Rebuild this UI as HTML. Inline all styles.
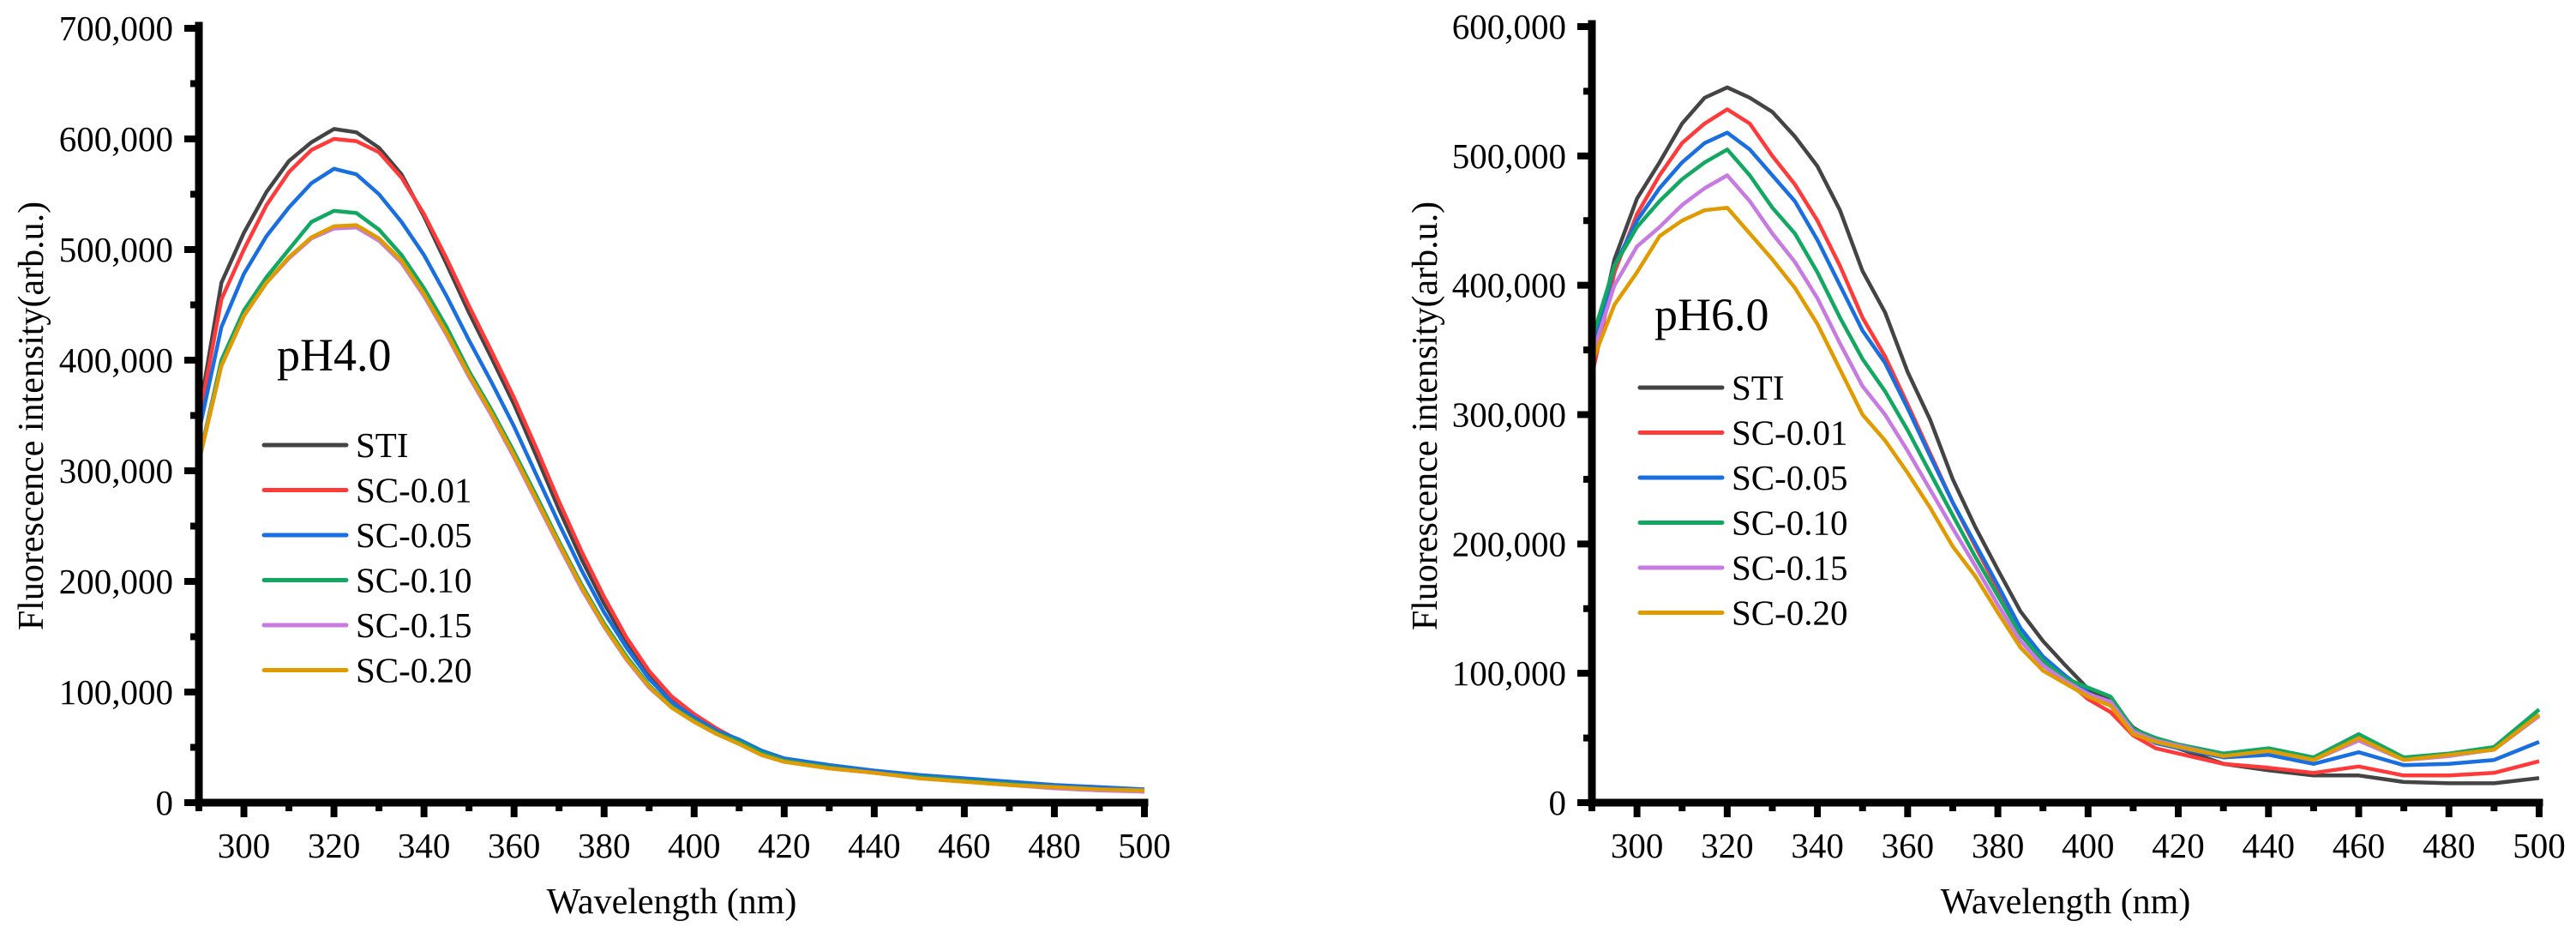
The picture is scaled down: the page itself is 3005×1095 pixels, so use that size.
<!DOCTYPE html>
<html><head><meta charset="utf-8"><style>
html,body{margin:0;padding:0;background:#fff;}
svg{display:block;font-family:"Liberation Serif","Times New Roman",serif;}
</style></head><body>
<svg id="fig" width="3005" height="1095" viewBox="0 0 3005 1095" xmlns="http://www.w3.org/2000/svg">
<g id="p1"></g>
<g id="p2"></g>
</svg>
<script>
const wavelengths=[290,295,300,305,310,315,320,325,330,335,340,345,350,355,360,365,370,375,380,385,390,395,400,405,410,415,420,430,440,450,460,470,480,490,500];
const seriesNames=["STI","SC-0.01","SC-0.05","SC-0.10","SC-0.15","SC-0.20"];
const seriesColors=["#444444","#ff3a3a","#1a6fe0","#12a862","#c77be0","#e09b00"];
// pH4.0 values (thousands)
const ph4_STI=[350,470,515,552,580,597,609,606,592,568,530,487,443,402,360,313,265,220,180,145,115,93,78,66,55,45,38,32,28,24,21,18,15,13,11];
const ph4_SC001=[345,455,500,540,570,590,600,598,588,565,532,492,449,408,366,320,272,227,186,149,119,96,80,67,56,45,38,31,27,23,20,17,14,12,10];
const ph4_SC005=[335,430,478,512,538,560,573,568,550,525,495,458,418,380,340,296,252,210,172,140,112,91,77,65,57,47,40,34,29,25,22,19,16,14,12];
const ph4_SC010=[310,400,445,475,500,525,535,533,518,495,465,430,390,355,317,277,236,197,162,132,106,87,74,63,55,45,38,32,27,23,20,17,14,12,11];
const ph4_SC015=[310,395,440,470,492,510,519,520,508,488,458,423,385,350,312,272,232,193,159,129,104,86,73,62,53,43,37,31,27,22,19,16,13,11,10];
const ph4_SC020=[308,395,440,470,493,511,521,522,510,490,460,425,387,352,314,274,234,195,160,130,105,86,73,62,53,43,37,31,27,22,19,16,14,12,11];
// pH6.0 values (thousands)
const ph6_STI=[342,420,467,495,525,545,553,545,534,515,492,458,411,379,333,296,250,213,180,148,125,106,88,79,58,48,42,30,25,21,21,16,15,15,19];
const ph6_SC001=[330,410,455,485,510,525,536,525,500,478,450,415,375,345,308,270,232,198,165,130,110,95,80,70,52,42,38,30,27,23,28,21,21,23,32];
const ph6_SC005=[345,415,450,475,495,510,518,505,485,465,435,400,365,340,305,268,232,200,168,135,113,98,85,75,55,46,42,35,37,30,39,29,30,33,47];
const ph6_SC010=[358,415,445,465,482,495,505,485,460,440,410,375,343,318,288,255,222,190,160,130,110,96,89,82,57,50,45,38,42,35,53,35,38,43,72];
const ph6_SC015=[345,400,430,445,462,475,485,465,440,418,390,355,322,300,272,242,212,183,153,125,106,94,84,78,55,48,44,36,40,33,48,33,36,41,67];
const ph6_SC020=[340,385,410,438,450,458,460,440,420,398,370,335,300,280,255,228,198,175,147,120,102,92,82,75,53,47,43,36,40,33,50,33,37,41,68];
const xTicks=[300,320,340,360,380,400,420,440,460,480,500];
const ph4_yTicks=[0,100000,200000,300000,400000,500000,600000,700000];
const ph6_yTicks=[0,100000,200000,300000,400000,500000,600000];

const NS="http://www.w3.org/2000/svg";
function mk(tag,attrs,parent){const e=document.createElementNS(NS,tag);for(const k in attrs)e.setAttribute(k,attrs[k]);parent.appendChild(e);return e;}
function fmt(v){return v===0?"0":v.toLocaleString("en-US");}

function panel(g,cfg){
  const xs=w=>cfg.x0+(w-290)/210*(cfg.x1-cfg.x0);
  const ys=v=>cfg.y0-v/cfg.ymax*(cfg.y0-cfg.yTop);
  // series
  cfg.series.forEach((s,i)=>{
    let d="";
    wavelengths.forEach((w,j)=>{d+=(j?"L":"M")+xs(w).toFixed(1)+","+ys(s[j]*1000).toFixed(1);});
    const p=mk("path",{d:d,fill:"none",stroke:seriesColors[i],"stroke-width":4.5,"stroke-linejoin":"round"},g);
    
    
  });
  // axes
  const ax=mk("path",{d:`M${cfg.x0},${cfg.yTop-3}V${cfg.y0}H${cfg.x1}`,fill:"none",stroke:"#000","stroke-width":9,"stroke-linecap":"square"},g);
  
  
  // x ticks
  for(let w=290;w<=500;w+=10){
    const major=(w%20===0);
    const t=mk("line",{x1:xs(w),x2:xs(w),y1:cfg.y0,y2:cfg.y0+(major?17:10),stroke:"#000","stroke-width":8},g);
    
    
  }
  xTicks.forEach(w=>{
    const t=mk("text",{x:xs(w),y:1000,"font-size":41,"text-anchor":"middle"},g);t.textContent=w;
    
    
  });
  // y ticks
  for(let v=0;v<=cfg.ymax;v+=50000){
    const major=(v%100000===0);
    const t=mk("line",{x1:cfg.x0,x2:cfg.x0-(major?17:10),y1:ys(v),y2:ys(v),stroke:"#000","stroke-width":8},g);
    
    
  }
  cfg.yTicks.forEach(v=>{
    const t=mk("text",{x:cfg.x0-30,y:ys(v)+14,"font-size":41,"text-anchor":"end"},g);t.textContent=fmt(v);
    
    
  });
  const xt=mk("text",{x:(cfg.x0+cfg.x1)/2,y:1065,"font-size":42,"text-anchor":"middle"},g);xt.textContent="Wavelength (nm)";
  
  
  const yt=mk("text",{x:0,y:0,"font-size":42,"text-anchor":"middle",transform:`translate(${cfg.ytx},485) rotate(-90)`},g);yt.textContent="Fluorescence intensity(arb.u.)";
  
  
  const lb=mk("text",{x:cfg.labX,y:cfg.labY,"font-size":54},g);lb.textContent=cfg.label;
  
  
  // legend
  seriesNames.forEach((n,i)=>{
    const yy=cfg.legY+i*52.5;
    const l=mk("line",{x1:cfg.legX,x2:cfg.legX+96,y1:yy,y2:yy,stroke:seriesColors[i],"stroke-width":5,"stroke-linecap":"round"},g);
    
    
    const t=mk("text",{x:cfg.legX+107,y:yy+14,"font-size":41},g);t.textContent=n;
    
    
  });
}
panel(document.getElementById("p1"),{x0:232,x1:1335,y0:936,yTop:33,ymax:700000,yTicks:ph4_yTicks,
  series:[ph4_STI,ph4_SC001,ph4_SC005,ph4_SC010,ph4_SC015,ph4_SC020],ytx:50,label:"pH4.0",labX:323,labY:432,legX:308,legY:519});
panel(document.getElementById("p2"),{x0:1857,x1:2962,y0:936,yTop:31,ymax:600000,yTicks:ph6_yTicks,
  series:[ph6_STI,ph6_SC001,ph6_SC005,ph6_SC010,ph6_SC015,ph6_SC020],ytx:1676,label:"pH6.0",labX:1930,labY:385,legX:1913,legY:452});
</script>
</body></html>
